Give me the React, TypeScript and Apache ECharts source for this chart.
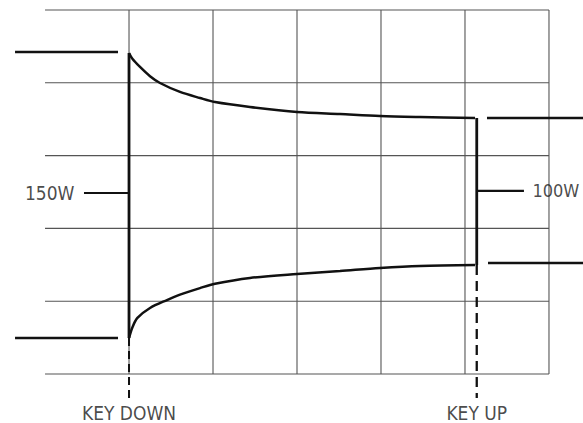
import React, { useEffect, useRef } from "react";
import * as echarts from "echarts";

// Horizontal unit = one grid division (time), vertical unit = one grid division (amplitude)
const keyDownX = 1.0;
const keyUpX = 5.14;

// scope graticule
const gridXs: number[] = [1, 2, 3, 4, 5, 6];
const gridYs: number[] = [0, 1, 2, 3, 4, 5];
const gridXRange: number[] = [0, 6];
const gridYRange: number[] = [0, 5];

const preUpper: number[][] = [[-0.357, 4.423], [0.869, 4.423]];
const preLower: number[][] = [[-0.357, 0.495], [0.869, 0.495]];

const upperEnvelope: number[][] = [
  [1.0, 4.409], [1.04, 4.33], [1.131, 4.217], [1.25, 4.09], [1.369, 3.997],
  [1.607, 3.874], [1.845, 3.791], [2.024, 3.736], [2.44, 3.668], [3.0, 3.599],
  [3.512, 3.571], [3.988, 3.544], [4.464, 3.53], [5.12, 3.516],
];
const lowerEnvelope: number[][] = [
  [1.0, 0.495], [1.04, 0.64], [1.1, 0.77], [1.25, 0.907], [1.452, 1.016],
  [1.607, 1.09], [1.845, 1.18], [2.024, 1.24], [2.44, 1.319], [3.0, 1.374],
  [3.512, 1.415], [3.988, 1.456], [4.464, 1.484], [5.12, 1.497],
];

const postUpper: number[][] = [[5.262, 3.516], [6.41, 3.516]];
const postLower: number[][] = [[5.274, 1.525], [6.41, 1.525]];

const marker150: number[][] = [[0.464, 2.486], [keyDownX, 2.486]];
const marker100: number[][] = [[keyUpX, 2.514], [5.702, 2.514]];

const keyDownSolid: number[][] = [[keyDownX, 0.495], [keyDownX, 4.409]];
const keyUpSolid: number[][] = [[keyUpX, 1.497], [keyUpX, 3.516]];
const keyDownDash: number[][] = [[keyDownX, 0.495], [keyDownX, -0.33]];
const keyUpDash: number[][] = [[keyUpX, 1.497], [keyUpX, -0.33]];

const labelTexts: string[] = ["150W", "100W", "KEY DOWN", "KEY UP"];
const labelAnchors: number[][] = [[0.464, 2.486], [5.702, 2.514], [keyDownX, -0.33], [keyUpX, -0.33]];
const labelPositions: string[] = ["left", "right", "bottom", "bottom"];

// visible axis extent (covers the full picture so traces can run past the graticule)
const xExtent: number[] = [-0.536, 6.405];
const yExtent: number[] = [-0.673, 5.137];

const INK = "#111";
const GRID_INK = "#555";
const FONT = "'DejaVu Sans Condensed', 'DejaVu Sans', sans-serif";

function trace(data: number[][], width = 2.5, smooth: number | boolean = false, color = INK, z = 5) {
  return {
    type: "line",
    data,
    showSymbol: false,
    symbol: "none",
    smooth,
    silent: true,
    lineStyle: { color, width },
    z,
  };
}

export default function App() {
  const ref = useRef<HTMLDivElement>(null);
  useEffect(() => {
    document.body.style.margin = "0";
    if (!ref.current) return;
    const chart = echarts.init(ref.current, undefined, { renderer: "svg" });
    const gridSeries = [
      ...gridXs.map((x) => trace([[x, gridYRange[0]], [x, gridYRange[1]]], 1.1, false, GRID_INK, 1)),
      ...gridYs.map((y) => trace([[gridXRange[0], y], [gridXRange[1], y]], 1.1, false, GRID_INK, 1)),
    ];
    chart.setOption({
      animation: false,
      backgroundColor: "#fff",
      grid: { left: 0, right: 0, top: 0, bottom: 0 },
      xAxis: {
        type: "value",
        min: xExtent[0],
        max: xExtent[1],
        show: false,
        splitLine: { show: false },
      },
      yAxis: {
        type: "value",
        min: yExtent[0],
        max: yExtent[1],
        show: false,
        splitLine: { show: false },
      },
      series: [
        ...gridSeries,
        trace(preUpper),
        trace(preLower),
        trace(keyDownSolid, 2.8),
        trace(upperEnvelope, 2.5, 0.3),
        trace(lowerEnvelope, 2.5, 0.3),
        trace(keyUpSolid, 2.8),
        trace(postUpper),
        trace(postLower),
        trace(marker150, 2.2),
        trace(marker100, 2.2),
        {
          type: "line",
          data: keyDownDash,
          showSymbol: false,
          symbol: "none",
          silent: true,
          lineStyle: { color: INK, width: 2, type: [8, 5] },
          z: 5,
        },
        {
          type: "line",
          data: keyUpDash,
          showSymbol: false,
          symbol: "none",
          silent: true,
          lineStyle: { color: INK, width: 2.3, type: [10, 6] },
          z: 5,
        },
        {
          type: "scatter",
          symbolSize: 1,
          silent: true,
          itemStyle: { color: "rgba(0,0,0,0)" },
          data: labelAnchors.map((p, i) => ({
            value: p,
            label: {
              show: true,
              formatter: labelTexts[i],
              position: labelPositions[i],
              distance: i === 0 ? 9 : i === 1 ? 8 : 5,
              color: "#1a1a1a",
              fontFamily: FONT,
              fontSize: i === 1 ? 18 : 19,
              lineHeight: 19,
            },
          })),
        },
      ],
    });
    return () => chart.dispose();
  }, []);
  return <div ref={ref} style={{ width: 583, height: 423 }} />;
}
